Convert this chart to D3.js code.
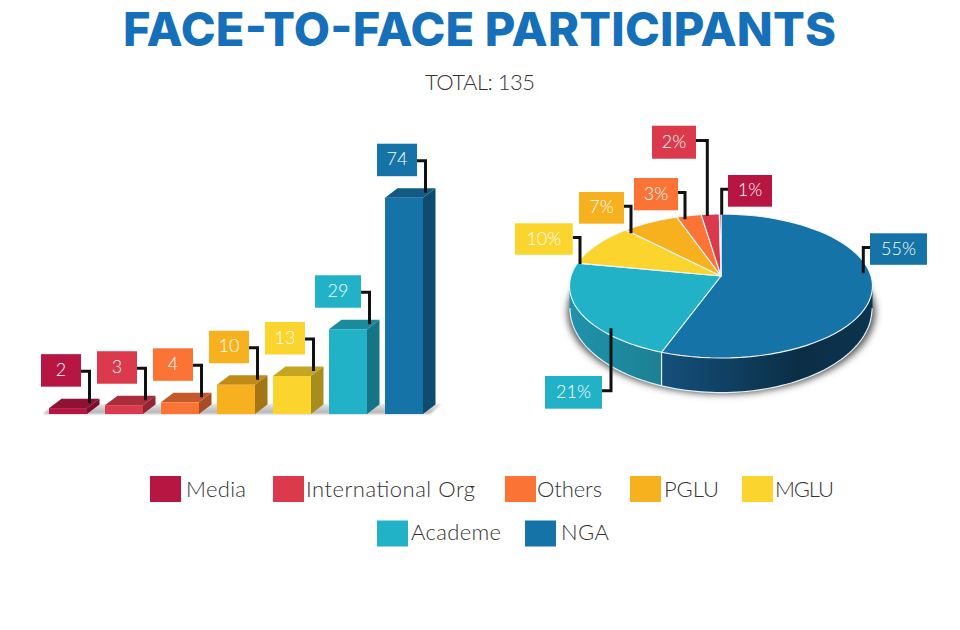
<!DOCTYPE html>
<html>
<head>
<meta charset="utf-8">
<script src="https://cdn.jsdelivr.net/npm/d3@7"></script>
<style>
html,body{margin:0;padding:0;background:#fff}
svg{display:block}
text{font-family:Lato,"Open Sans",sans-serif}
</style>
</head>
<body>
<div id="chart"></div>
<script>
// ---- data ----
const categories = ["Media","International Org","Others","PGLU","MGLU","Academe","NGA"];
const counts = [2,3,4,10,13,29,74];
const colors = ["#B81642","#DA3A4B","#FB7436","#F7B11F","#FBD52D","#21B2C8","#1573A8"];
// pie drawn clockwise from 12 o'clock
const pieOrder = ["NGA","Academe","MGLU","PGLU","Others","International Org","Media"];
const pieLabels = ["55%","21%","10%","7%","3%","2%","1%"];
const pieShares = [55.6,22.4,9.7,6.9,3,2.2,0.2]; // slice sizes

// ---- layout ----
const W = 960, H = 630;
const svg = d3.select("#chart").append("svg").attr("width",W).attr("height",H).attr("viewBox",[0,0,W,H]);
const defs = svg.append("defs");
const colorOf = d3.scaleOrdinal().domain(categories).range(colors);
const shade = (c,f)=>{const r=d3.rgb(c);return d3.rgb(r.r*f,r.g*f,r.b*f).formatHex();};

defs.append("filter").attr("id","blur").attr("x","-20%").attr("y","-20%").attr("width","140%").attr("height","140%")
  .append("feGaussianBlur").attr("stdDeviation",3.5);
defs.append("filter").attr("id","blur2").attr("x","-5%").attr("y","-50%").attr("width","110%").attr("height","200%")
  .append("feGaussianBlur").attr("stdDeviation",0.8);

// ---- title ----
svg.append("text").attr("x",123).attr("y",46).attr("textLength",713).attr("lengthAdjust","spacing")
  .style("font-family","Inter,Lato,sans-serif")
  .attr("font-size",47).attr("font-weight",800).attr("fill","#1570B9").text("FACE-TO-FACE PARTICIPANTS");
svg.append("text").attr("x",480).attr("y",90).attr("text-anchor","middle").attr("font-weight",300)
  .attr("font-size",22).attr("textLength",110).attr("fill","#333").text("TOTAL: 135");

// ---- bars ----
const x = d3.scaleBand().domain(categories).range([49,423]).paddingInner(18/56).paddingOuter(0);
const y = d3.scaleLinear().domain([0,74]).range([414,197.7]);
const dx = 12.5, dy = 9.5;
const barG = svg.append("g");
const gr = defs.append("linearGradient").attr("id","floor").attr("x1",0).attr("x2",0).attr("y1",0).attr("y2",1);
gr.append("stop").attr("offset",0).attr("stop-color","#e4e4e4");
gr.append("stop").attr("offset",1).attr("stop-color","#b0b0b0");
const x0 = x.range()[0], x1 = x.range()[1];
barG.append("path").attr("d",`M${x0-6},414 L${x1+7},414 L${x1+19},404 L${x0+6},404 Z`)
  .attr("fill","url(#floor)").attr("filter","url(#blur2)");

const bars = barG.selectAll("g.bar").data(categories.map((c,i)=>({c,v:counts[i]}))).join("g").attr("class","bar");
const bw = x.bandwidth();
bars.append("path").attr("fill",d=>shade(colorOf(d.c),0.78))
  .attr("d",d=>{const a=x(d.c),t=y(d.v);return `M${a},${t} L${a+dx},${t-dy} L${a+bw+dx},${t-dy} L${a+bw},${t} Z`;});
bars.append("path").attr("fill",d=>shade(colorOf(d.c),0.66))
  .attr("d",d=>{const a=x(d.c)+bw,t=y(d.v);return `M${a},${t} L${a+dx},${t-dy} L${a+dx},${y(0)-dy} L${a},${y(0)} Z`;});
bars.append("rect").attr("x",d=>x(d.c)).attr("y",d=>y(d.v)).attr("width",bw)
  .attr("height",d=>y(0)-y(d.v)).attr("fill",d=>colorOf(d.c));

const barBoxW = d=>d.c==="Academe"?46:40;
const leader = (pts)=>d3.line()(pts);
bars.append("path").attr("fill","none").attr("stroke","#111").attr("stroke-width",3)
  .attr("d",d=>{const a=x(d.c),t=y(d.v);return leader([[a+32,t-37],[a+40.5,t-37],[a+40.5,t-5]]);});
bars.append("rect").attr("x",d=>x(d.c)+32-barBoxW(d)).attr("y",d=>y(d.v)-54)
  .attr("width",barBoxW).attr("height",32.5).attr("fill",d=>colorOf(d.c));
bars.append("text").attr("x",d=>x(d.c)+32-barBoxW(d)/2).attr("y",d=>y(d.v)-32.5)
  .attr("text-anchor","middle").attr("font-size",18).attr("font-weight",300).attr("fill","#fff").text(d=>d.v);

// ---- pie ----
const cx = 721, ex = 150, ey = 286, apexY = -10, ry = 72, k = -10/72*1;
const project = (t)=>{ // clockwise angle from the top -> perspective point on the disc rim
  const u=Math.sin(t), v=-Math.cos(t), w=1+k*v;
  return [cx+ex*u/w, ey+(ry*v+apexY)/w];
};
const apex = [cx, ey+apexY];
const arcs = d3.pie().sort(null).value(d=>d)(pieShares).map((a,i)=>({...a,name:pieOrder[i],label:pieLabels[i]}));
const pieG = svg.append("g");
const bottomCy = 308.6, bottomRy = 84, bottomRx = 151;
const bottomY = px => bottomCy + bottomRy*Math.sqrt(Math.max(0,1-((px-cx)/bottomRx)**2));
const sample = (a,b,n=60)=>d3.range(n+1).map(i=>a+(b-a)*i/n);

pieG.append("ellipse").attr("cx",cx+0.5).attr("cy",312).attr("rx",154).attr("ry",82)
  .attr("fill","#555").attr("filter","url(#blur)");

const wallA0 = 98*Math.PI/180, wallA1 = 262*Math.PI/180;
const wallStops = {
  "NGA":[["0%","#0c3450"],["35%","#0b2e45"],["100%","#14507c"]],
  "Academe":[["0%","#1c8092"],["100%","#1f93ab"]]
};
arcs.forEach(s=>{
  const a=Math.max(s.startAngle,wallA0), b=Math.min(s.endAngle,wallA1);
  if(a>=b) return;
  const top=sample(a,b).map(project);
  const bot=top.map(p=>[p[0],bottomY(p[0])]).reverse();
  const id="wall"+s.index;
  const xs=top.map(p=>p[0]);
  const g=defs.append("linearGradient").attr("id",id).attr("gradientUnits","userSpaceOnUse")
    .attr("x1",d3.max(xs)).attr("x2",d3.min(xs)).attr("y1",0).attr("y2",0);
  const stops=wallStops[s.name]||[["0%",shade(colorOf(s.name),.7)],["100%",shade(colorOf(s.name),.7)]];
  stops.forEach(st=>g.append("stop").attr("offset",st[0]).attr("stop-color",st[1]));
  pieG.append("path").attr("d",d3.line()(top.concat(bot))+"Z").attr("fill",`url(#${id})`);
  // pale outline of the lower edge and the seam
  pieG.append("path").attr("d",d3.line()(bot)).attr("fill","none").attr("stroke","#dfeff5").attr("stroke-width",1.2);
});
// seam between NGA and Academe walls
const seam = project(arcs[0].endAngle);
pieG.append("path").attr("d",d3.line()([seam,[seam[0],bottomY(seam[0])]])).attr("stroke","#e6f3f7").attr("stroke-width",1.2);

pieG.selectAll("path.slice").data(arcs).join("path").attr("class","slice")
  .attr("fill",d=>colorOf(d.name))
  .attr("stroke","#f1f8fa").attr("stroke-width",1.1).attr("stroke-linejoin","round")
  .attr("d",d=>d3.line()([apex,...sample(d.startAngle,d.endAngle).map(project)])+"Z");

// pie call-outs: box [left, top, width, height], then leader elbow x, leader end y
const pieCallouts = {
  "55%":{box:[870,233.3,57,31.5],x:863.3,y:273.3},
  "21%":{box:[545,376,57,32.7],x:611,y:328.3},
  "10%":{box:[515,223.3,57.7,31.5],x:580,y:264},
  "7%":{box:[579,192,45,31.7],x:631,y:233.3},
  "3%":{box:[634,178,44,32.3],x:685,y:219.3},
  "2%":{box:[652,125.7,44,33],x:707.3,y:216},
  "1%":{box:[728,175,44,31.7],x:721.7,y:214.7}
};
const labelG = svg.append("g");
arcs.forEach(s=>{
  const c=pieCallouts[s.label], [l,t,w,h]=c.box;
  const left=c.x<l, edge=left?l:l+w, my=t+h*0.45;
  labelG.append("path").attr("fill","none").attr("stroke","#111").attr("stroke-width",3)
    .attr("d",d3.line()([[edge,my],[c.x,my],[c.x,c.y]]));
  labelG.append("rect").attr("x",l).attr("y",t).attr("width",w).attr("height",h).attr("fill",colorOf(s.name));
  labelG.append("text").attr("x",l+w/2).attr("y",t+h/2+5.5).attr("text-anchor","middle")
    .attr("font-size",18).attr("font-weight",300).attr("fill","#fff").text(s.label);
});

// ---- legend ----
const legendSlots = [
  {sx:150,tx:186,row:0,tw:60},{sx:273,tx:306,row:0,tw:169},{sx:505,tx:537,row:0,tw:65},{sx:630,tx:664,row:0,tw:55},{sx:742,tx:775,row:0,tw:59},
  {sx:377,tx:411,row:1,tw:90},{sx:525,tx:561,row:1,tw:48}
];
const rowTop=[476,520.5], rowBase=[496.5,540];
const leg = svg.append("g").selectAll("g").data(categories).join("g");
leg.append("rect").attr("x",(d,i)=>legendSlots[i].sx).attr("y",(d,i)=>rowTop[legendSlots[i].row])
  .attr("width",31).attr("height",26).attr("fill",d=>colorOf(d));
leg.append("text").attr("x",(d,i)=>legendSlots[i].tx).attr("y",(d,i)=>rowBase[legendSlots[i].row])
  .attr("textLength",(d,i)=>legendSlots[i].tw)
  .attr("font-size",22).attr("font-weight",300).attr("fill","#333").text(d=>d);
</script>
</body>
</html>
